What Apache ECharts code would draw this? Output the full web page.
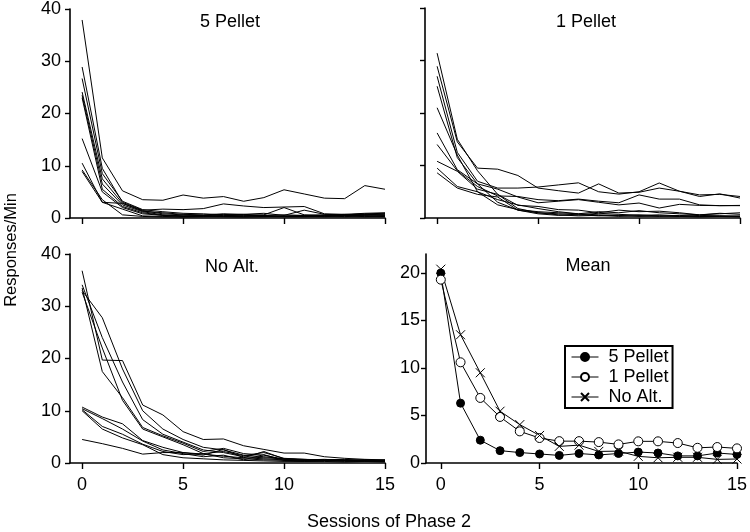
<!DOCTYPE html>
<html><head><meta charset="utf-8">
<script src="https://cdn.jsdelivr.net/npm/echarts@6/dist/echarts.min.js"></script>
<style>html,body{margin:0;padding:0;background:#fff}#c{width:750px;height:532px}</style>
</head><body><div id="c"></div>
<script>
const sessions = [0,1,2,3,4,5,6,7,8,9,10,11,12,13,14,15];
const xTicks = [0,5,10,15];
const yTicksTop = [0,10,20,30,40];
const yTicksMean = [0,5,10,15,20];
const panelTitles = ['5 Pellet','1 Pellet','No Alt.','Mean'];
const legendNames = ['5 Pellet','1 Pellet','No Alt.'];
const xLabel = 'Sessions of Phase 2';
const yLabel = 'Responses/Min';

const pellet5Subjects = [
  [37.9,11.5,5.2,3.5,3.4,4.4,3.8,4.1,3.2,3.9,5.4,4.6,3.8,3.7,6.2,5.5],
  [28.9,9.5,3.0,1.5,1.7,1.6,1.8,2.7,2.3,2.0,2.1,2.2,0.8,0.7,0.9,1.0],
  [26.7,8.5,3.2,1.6,1.2,0.9,0.8,0.6,0.7,0.9,0.5,1.5,0.7,0.6,0.8,0.9],
  [24.1,7.5,2.8,1.4,0.8,0.6,0.5,0.7,0.5,0.6,2.0,0.6,0.5,0.7,0.6,0.8],
  [23.5,6.5,2.5,1.2,0.6,0.4,0.5,0.4,0.6,0.3,0.4,0.5,0.4,0.5,0.5,0.6],
  [23.0,5.5,2.2,1.0,0.5,0.3,0.3,0.5,0.4,0.5,0.3,0.3,0.5,0.4,0.6,0.5],
  [15.2,5.0,2.0,0.8,0.5,0.4,0.4,0.3,0.3,0.4,0.3,0.4,0.3,0.6,0.4,0.4],
  [10.5,3.0,2.8,1.3,1.0,0.7,0.6,0.8,0.7,0.5,0.6,0.5,0.6,0.5,0.7,0.6],
  [9.2,3.5,0.6,0.3,0.2,0.2,0.3,0.2,0.2,0.3,0.2,0.2,0.3,0.2,0.3,0.2],
  [8.9,3.0,1.7,0.4,0.3,0.2,0.2,0.3,0.2,0.2,0.3,0.3,0.2,0.3,0.2,0.3]
];
const pellet1Subjects = [
  [31.4,15.0,9.0,4.5,1.8,1.0,0.6,0.4,0.5,0.3,0.4,0.3,0.5,0.3,0.4,0.3],
  [28.9,14.5,9.5,9.3,8.1,5.7,5.2,4.75,6.5,4.75,4.9,5.7,5.1,4.4,4.5,4.1],
  [27.0,12.5,7.0,5.7,5.7,5.9,6.3,6.7,5.0,4.55,5.0,6.67,5.1,4.1,4.6,3.8],
  [25.1,11.5,6.5,3.0,1.5,0.8,0.5,0.6,0.4,0.5,0.3,0.4,0.3,0.5,0.4,0.3],
  [21.0,12.0,5.0,2.5,1.6,1.2,1.0,0.8,1.2,1.0,1.4,1.0,0.8,0.6,0.9,0.7],
  [16.2,9.2,6.5,5.5,4.0,2.9,3.2,3.5,3.0,2.5,2.85,1.9,2.6,2.4,2.35,2.35],
  [14.0,9.0,6.0,4.2,4.1,3.5,3.3,3.6,3.2,2.9,4.4,3.6,3.6,2.5,2.35,2.4],
  [10.8,8.9,5.5,4.5,2.4,2.2,1.6,1.5,1.0,1.5,1.2,1.3,1.0,0.6,0.8,1.0],
  [9.5,6.0,5.0,3.5,2.5,1.8,1.2,0.8,0.6,0.5,0.6,0.4,0.3,0.2,0.3,0.2],
  [8.6,5.7,4.5,4.0,1.5,1.0,0.8,0.6,0.9,0.7,0.5,0.6,0.4,0.3,0.3,0.4]
];
const noAltSubjects = [
  [36.8,19.7,19.6,11.1,9.2,6.0,4.5,4.6,3.3,2.6,1.9,1.9,1.2,0.9,0.7,0.6],
  [33.0,27.8,18.0,10.0,6.5,4.5,3.0,2.5,1.5,1.2,0.8,0.7,0.6,0.5,0.5,0.4],
  [34.1,24.0,15.5,8.3,5.5,4.0,2.5,2.0,1.2,1.0,0.8,0.6,0.5,0.5,0.4,0.3],
  [33.5,17.5,12.5,6.8,5.2,3.8,2.2,2.8,1.8,1.5,0.7,0.5,0.6,0.7,0.4,0.5],
  [32.7,22.0,12.0,6.5,5.0,3.5,1.8,2.2,1.4,2.0,0.9,0.7,0.5,0.6,0.5,0.4],
  [10.7,8.8,7.5,4.3,3.0,2.0,1.5,2.6,1.0,2.2,0.8,0.6,0.7,0.5,0.6,0.4],
  [10.4,8.5,6.5,4.2,2.5,1.8,1.2,1.5,0.6,1.6,0.5,0.4,0.5,0.4,0.5,0.3],
  [10.2,7.0,5.5,3.6,2.2,1.6,1.8,1.0,0.8,0.6,0.5,0.3,0.4,0.3,0.3,0.3],
  [10.0,6.5,4.8,3.5,1.6,1.0,0.8,0.6,0.5,0.4,0.3,0.3,0.3,0.2,0.3,0.2],
  [4.5,3.7,2.8,1.7,2.0,2.0,1.7,1.3,1.0,0.8,0.6,0.5,0.4,0.5,0.6,0.6]
];
const mean5Pellet = [20.0,6.3,2.4,1.3,1.1,0.95,0.8,1.0,0.85,1.0,1.15,1.05,0.75,0.75,1.05,0.9];
const mean1Pellet = [19.3,10.6,6.85,4.85,3.33,2.63,2.3,2.3,2.2,1.96,2.28,2.28,2.1,1.6,1.68,1.54];
const meanNoAlt = [20.4,13.5,9.5,5.45,4.04,2.9,1.75,1.88,1.22,1.25,0.7,0.55,0.6,0.6,0.38,0.42];

const FONT = '"Liberation Sans", Arial, Helvetica, sans-serif';
const FS = 18;
const grids = [
  {left:70, top:8, width:315, height:210},
  {left:425, top:8, width:315, height:210},
  {left:70, top:254, width:315, height:209},
  {left:426, top:254, width:314, height:209}
];
const axLine = {show:true, onZero:false, lineStyle:{color:'#000', width:1.6}};
function xAx(i, showLabel, min) {
  return {type:'value', gridIndex:i, min:min, max:15,
    axisLine:axLine,
    axisTick:{show:true, customValues:xTicks, length:6, lineStyle:{color:'#000', width:1.4}},
    axisLabel:{show:showLabel, customValues:xTicks, margin:13, color:'#000', fontSize:FS, fontFamily:FONT},
    splitLine:{show:false}};
}
function yAx(i, showLabel, max, ticks, margin) {
  return {type:'value', gridIndex:i, min:0, max:max,
    axisLine:axLine,
    axisTick:{show:true, customValues:ticks, length:5, lineStyle:{color:'#000', width:1.4}},
    axisLabel:{show:showLabel, customValues:ticks, margin:margin, color:'#000', fontSize:FS, fontFamily:FONT},
    splitLine:{show:false}};
}
const series = [];
[pellet5Subjects, pellet1Subjects, noAltSubjects].forEach((subs, gi) => {
  subs.forEach(vals => {
    series.push({type:'line', xAxisIndex:gi, yAxisIndex:gi, symbol:'none', silent:true,
      lineStyle:{color:'#000', width:1}, data: sessions.map((s,k)=>[s, vals[k]])});
  });
});
const meanDefs = [
  {name:legendNames[0], vals:mean5Pellet, symbol:'circle', size:8, item:{color:'#000', borderColor:'#000', borderWidth:1}},
  {name:legendNames[1], vals:mean1Pellet, symbol:'circle', size:9, item:{color:'#fff', borderColor:'#000', borderWidth:1}},
  {name:legendNames[2], vals:meanNoAlt, symbol:'path://M0,0L10,10M10,0L0,10', size:9, item:{color:'none', borderColor:'#000', borderWidth:1}}
];
meanDefs.forEach(d => {
  series.push({name:d.name, type:'line', xAxisIndex:3, yAxisIndex:3, symbol:d.symbol, symbolSize:d.size,
    showAllSymbol:true, itemStyle:d.item, lineStyle:{color:'#000', width:1}, silent:true,
    data: sessions.map((s,k)=>[s, d.vals[k]])});
});
const titlePos = [[230,22],[586,22],[232,267],[588,266]];
const graphic = panelTitles.map((t,i)=>({type:'text', x:titlePos[i][0], y:titlePos[i][1],
  style:{text:t, fill:'#000', font: FS+'px '+FONT, align:'center', verticalAlign:'middle'}}));
graphic.push({type:'text', x:389, y:522, style:{text:xLabel, fill:'#000', font:FS+'px '+FONT, align:'center', verticalAlign:'middle'}});
graphic.push({type:'text', x:11, y:250, rotation:Math.PI/2, style:{text:yLabel, fill:'#000', font:'16.5px '+FONT, align:'center', verticalAlign:'middle'}});

const chart = echarts.init(document.getElementById('c'), null, {renderer:'canvas'});
chart.setOption({
  animation:false,
  backgroundColor:'#fff',
  grid:grids,
  xAxis:[xAx(0,false,-0.6), xAx(1,false,-0.6), xAx(2,true,-0.6), xAx(3,true,-0.75)],
  yAxis:[yAx(0,true,40,yTicksTop,9), yAx(1,false,40,yTicksTop,9), yAx(2,true,40,yTicksTop,9), yAx(3,true,22,yTicksMean,6)],
  legend:{data:legendNames, orient:'vertical', left:565, top:346, padding:[2,4,2,6], itemGap:2,
    itemWidth:27, itemHeight:10, borderColor:'#000', borderWidth:2, borderRadius:0,
    lineStyle:{width:1, color:'#000'},
    textStyle:{color:'#000', fontSize:FS, fontFamily:FONT, padding:[0,0,0,5]}, selectedMode:false},
  series:series,
  graphic:graphic
});
</script></body></html>
